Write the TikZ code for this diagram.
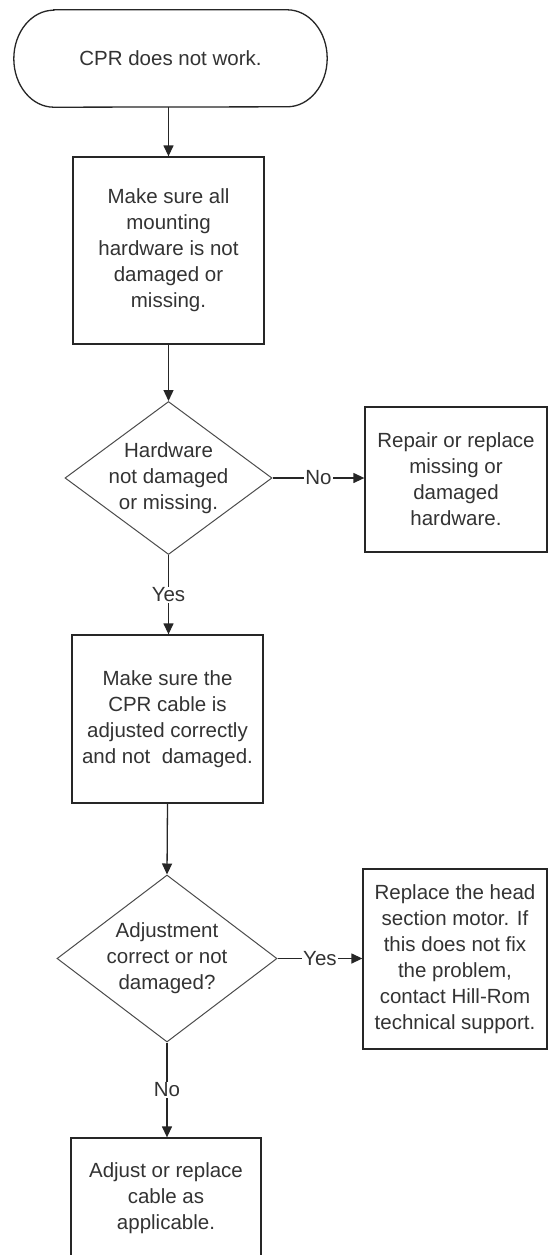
\documentclass[tikz,border=0pt]{standalone}
\usepackage{fontspec}
\setmainfont{Liberation Sans}
\usetikzlibrary{arrows.meta,shapes.geometric}
\begin{document}
\begin{tikzpicture}[x=1pt,y=1pt,
  txt/.style={font=\fontsize{20.5}{26}\selectfont, text=black!80, align=center},
  stepbox/.style={txt, draw=black!85, line width=1.3pt, inner sep=0pt},
  decision/.style={shape=diamond, draw=black!70, line width=1pt, inner sep=0pt},
  flow/.style={draw=black!85, line width=1.3pt, -{Triangle[length=11pt,width=10pt]}},
  flowlabel/.style={txt, fill=white, inner sep=1pt}]
\useasboundingbox (0,0) rectangle (548,-1255);
\fill[white] (0,0) rectangle (548,-1255);

% start terminal: straight top and bottom with elliptical ends
\node[txt, minimum width=313, minimum height=97, inner sep=0pt] (start) at (170.5,-58.5) {CPR does not work.};
\draw[draw=black!85, line width=1.3pt]
  ([xshift=40]start.north west) -- ([xshift=-40]start.north east)
  arc[start angle=90, end angle=-90, x radius=40, y radius=48.5]
  -- ([xshift=40]start.south west)
  arc[start angle=270, end angle=90, x radius=40, y radius=48.5] -- cycle;

% process steps and decisions
\node[stepbox, minimum width=191, minimum height=187] (check) at (168.5,-250.5)
  {Make sure all\\mounting\\hardware is not\\damaged or\\missing.};
\node[decision, minimum width=207, minimum height=153,
  label={[txt]center:{Hardware\\not damaged\\or missing.}}] (hwok) at (168.5,-478) {};
\node[stepbox, minimum width=182, minimum height=145] (repair) at (456,-479.5)
  {Repair or replace\\missing or\\damaged\\hardware.};
\node[stepbox, minimum width=191, minimum height=168] (cable) at (167.5,-719)
  {Make sure the\\CPR cable is\\adjusted correctly\\and not~ damaged.};
\node[decision, minimum width=220, minimum height=167,
  label={[txt]center:{Adjustment\\correct or not\\damaged?}}] (adjok) at (167,-958.5) {};
\node[stepbox, minimum width=184, minimum height=180] (motor) at (455,-959)
  {Replace the head\\section motor. If\\this does not fix\\the problem,\\contact Hill-Rom\\technical support.};
\node[stepbox, minimum width=190, minimum height=120] (adjust) at (166,-1198)
  {Adjust or replace\\cable as\\applicable.};

% connectors
\draw[flow] (start.south -| check.north) -- (check.north);
\draw[flow] (check.south) -- (hwok.north);
\draw[flow] (hwok.east) -- node[flowlabel]{No} (repair.west |- hwok.east);
\draw[flow] (hwok.south) -- node[flowlabel]{Yes} (cable.north -| hwok.south);
\draw[flow] (cable.south) -- (adjok.north);
\draw[flow] (adjok.east) -- node[flowlabel]{Yes} (motor.west |- adjok.east);
\draw[flow] (adjok.south) -- node[flowlabel]{No} (adjust.north -| adjok.south);
\end{tikzpicture}
\end{document}
